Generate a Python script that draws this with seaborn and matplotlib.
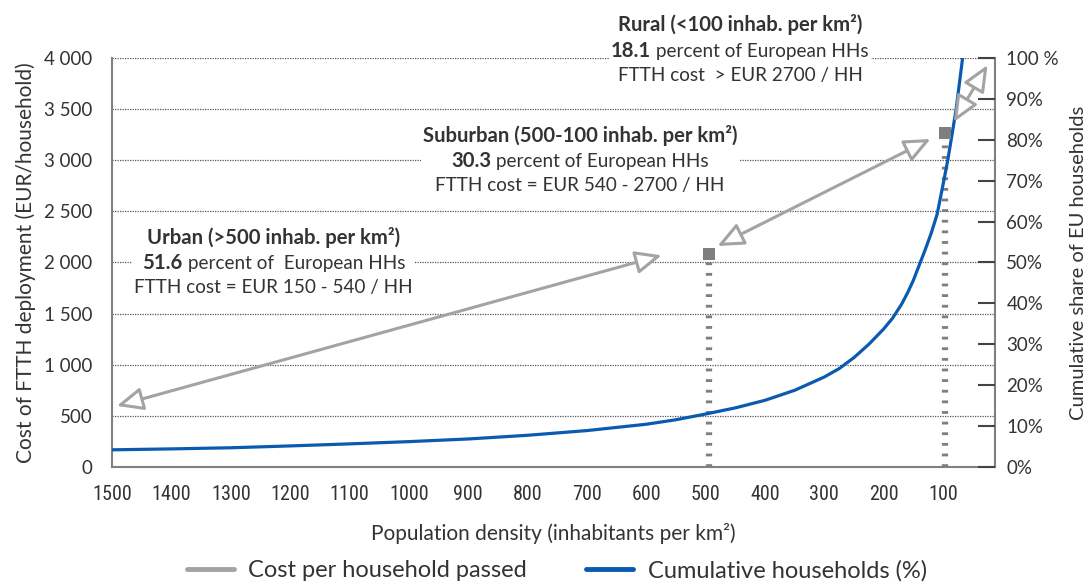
import matplotlib
matplotlib.use("Agg")
import matplotlib.pyplot as plt
import seaborn as sns
import pandas as pd
from matplotlib.lines import Line2D
from matplotlib.offsetbox import TextArea, HPacker, VPacker, AnnotationBbox
from matplotlib import font_manager

# ---------------- data ----------------
density = [1500, 1400, 1300, 1200, 1100, 1000, 900, 800, 700, 600, 550, 500, 450, 400, 350,
           300, 275, 250, 225, 200, 185, 170, 160, 150, 140, 130, 120, 110, 100, 92, 85, 78,
           72, 67, 62]
cost = [168, 177, 188, 206, 226, 248, 274, 310, 356, 418, 462, 518, 578, 652, 750,
        880, 962, 1070, 1200, 1350, 1455, 1590, 1700, 1825, 1975, 2125, 2285, 2470, 2760, 3000, 3245, 3495,
        3770, 4000, 4300]

boundary_density = [495, 96]
boundary_cost = [2083, 3267]

x_ticks = [1500, 1400, 1300, 1200, 1100, 1000, 900, 800, 700, 600, 500, 400, 300, 200, 100]
y_ticks = [0, 500, 1000, 1500, 2000, 2500, 3000, 3500, 4000]
y_labels = ["0", "500", "1 000", "1 500", "2 000", "2 500", "3 000", "3 500", "4 000"]
pct_ticks = [0, 10, 20, 30, 40, 50, 60, 70, 80, 90, 100]
pct_labels = ["0%", "10%", "20%", "30%", "40%", "50%", "60%", "70%", "80%", "90%", "100 %"]

# arrows: (start density, start cost), (end density, end cost)
urban_arrow = [(1492, 597), (574, 2070)]
suburban_arrow = [(480, 2161), (121, 3208)]
rural_arrow = [(82, 3374), (25, 3931)]

urban_text = ["Urban (>500 inhab. per km²)", "51.6", " percent of  European HHs", "FTTH cost = EUR 150 - 540 / HH"]
suburban_text = ["Suburban (500-100 inhab. per km²)", "30.3", " percent of European HHs", "FTTH cost = EUR 540 - 2700 / HH"]
rural_text = ["Rural (<100 inhab. per km²)", "18.1", " percent of European HHs", "FTTH cost  > EUR 2700 / HH"]

legend_labels = ["Cost per household passed", "Cumulative households (%)"]

# ---------------- style ----------------
sns.set_style("white")
plt.rcParams['font.family'] = ['Lato', 'DejaVu Sans']
TXT = '#333333'
BLUE = '#0a5bb0'
GREY = '#a3a3a3'
DGREY = '#7f7f7f'

avail = {f.name for f in font_manager.fontManager.ttflist}
narrow = 'Lato'
for cand in ['Liberation Sans Narrow', 'Roboto Condensed', 'Open Sans Condensed']:
    if cand in avail:
        narrow = cand
        break

fig = plt.figure(figsize=(10.92, 5.88), dpi=100)
ax = fig.add_axes([0.1026, 0.2058, 0.8088, 0.6956])

df = pd.DataFrame({"density": density, "cost": cost})
sns.lineplot(data=df, x="density", y="cost", ax=ax, color=BLUE, lw=2.3, sort=False, zorder=5)

ax.set_xlim(1500, 12)
ax.set_ylim(0, 4000)
ax.set_xticks(x_ticks)
ax.set_xticklabels([str(v) for v in x_ticks], fontsize=14.5, color=TXT, family=narrow)
ax.set_yticks(y_ticks)
ax.set_yticklabels(y_labels, fontsize=13.5, color=TXT)
ax.tick_params(axis='y', length=0, pad=14)
ax.tick_params(axis='x', direction='in', length=7, width=1, color='#666666', pad=13)
ax.yaxis.grid(True, linestyle=(0, (1, 1)), color='#555555', lw=0.9)
ax.xaxis.grid(False)
ax.set_axisbelow(True)
for s in ['left', 'bottom', 'right']:
    ax.spines[s].set_color('#808080')
    ax.spines[s].set_linewidth(1.5)
ax.spines['top'].set_visible(False)

ax.set_xlabel("Population density (inhabitants per km²)", fontsize=15, color=TXT, labelpad=14)
ax.set_ylabel("Cost of FTTH deployment (EUR/household)", fontsize=15, color=TXT, labelpad=6)

# boundary dotted lines and squares
for d, c in zip(boundary_density, boundary_cost):
    ax.plot([d, d], [0, c], color=DGREY, lw=4.5, linestyle=(0, (0.45, 1.25)), zorder=4,
            solid_capstyle='butt', dash_capstyle='butt')
ax.scatter(boundary_density, boundary_cost, marker='s', s=80, color=DGREY, zorder=6, linewidths=0)

# arrows
for (p0, p1) in [urban_arrow, suburban_arrow, rural_arrow]:
    ax.annotate("", xy=p1, xytext=p0, xycoords='data', textcoords='data',
                arrowprops=dict(arrowstyle='<|-|>,head_length=0.8,head_width=0.35',
                                mutation_scale=20, fc='white', ec=GREY, lw=2.2,
                                shrinkA=0, shrinkB=0),
                annotation_clip=False, zorder=7)

# text blocks
tp = dict(fontsize=13.6, color=TXT)
tb = dict(fontsize=14.6, color=TXT, fontweight='bold')
def block(lines, xy):
    t1 = TextArea(lines[0], textprops=tb)
    a = TextArea(lines[1], textprops=tb)
    b = TextArea(lines[2], textprops=tp)
    l2 = HPacker(children=[a, b], align='baseline', pad=0, sep=0)
    t3 = TextArea(lines[3], textprops=tp)
    v = VPacker(children=[t1, l2, t3], align='center', pad=0, sep=4)
    ab = AnnotationBbox(v, xy, xycoords='axes fraction', frameon=True, pad=0.15,
                        bboxprops=dict(fc='white', ec='none'), annotation_clip=False,
                        box_alignment=(0.5, 0.5), zorder=3)
    ax.add_artist(ab)

block(urban_text, (0.183, 0.503))
block(suburban_text, (0.530, 0.752))
block(rural_text, (0.711, 1.022))

# right axis
ax2 = ax.twinx()
ax2.set_ylim(0, 100)
ax2.set_yticks(pct_ticks)
ax2.set_yticklabels(pct_labels, fontsize=13.5, color=TXT)
ax2.tick_params(axis='y', direction='in', length=12, width=1.5, color='#444444', pad=8)
for s in ax2.spines.values():
    s.set_visible(False)
ax2.grid(False)
ax2.set_ylabel("Cumulative share of EU households", fontsize=14.5, color=TXT, labelpad=8)

handles = [Line2D([], [], color=GREY, lw=3.5), Line2D([], [], color=BLUE, lw=3.5)]
fig.legend(handles, legend_labels, loc='lower center', bbox_to_anchor=(0.51, -0.025), ncol=2,
           frameon=False, fontsize=17, handlelength=2.0, handletextpad=0.6, columnspacing=2.5,
           labelcolor=TXT)

fig.savefig("out.png", dpi=100)
